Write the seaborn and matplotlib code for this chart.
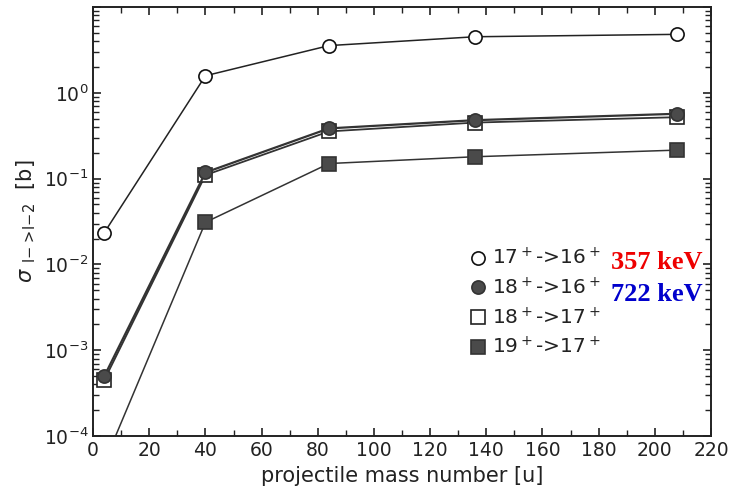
import matplotlib
matplotlib.use("Agg")
import math
import matplotlib.pyplot as plt
import matplotlib.ticker as mticker
import seaborn as sns
import pandas as pd
from matplotlib.lines import Line2D
from matplotlib.ticker import MultipleLocator, LogLocator, NullFormatter

sns.set_style("ticks")
plt.rcParams['font.family'] = ['DejaVu Sans']

mass = [4, 40, 84, 136, 208]
s_17_16 = [0.0235, 1.58, 3.55, 4.5, 4.8]
s_18_16 = [5.0e-4, 0.118, 0.385, 0.48, 0.57]
s_18_17 = [4.5e-4, 0.11, 0.355, 0.45, 0.52]
s_19_17 = [4.9e-5, 0.031, 0.15, 0.18, 0.215]
labels = ["17$^+$->16$^+$", "18$^+$->16$^+$", "18$^+$->17$^+$", "19$^+$->17$^+$"]
energies = ["357 keV", "722 keV"]

series = [s_17_16, s_18_16, s_18_17, s_19_17]
styles = [
    dict(marker="o", mfc="white", mec="#111111", color="#222222", lw=1.1),
    dict(marker="o", mfc="#4a4a4a", mec="#333333", color="#333333", lw=1.6),
    dict(marker="s", mfc="white", mec="#222222", color="#333333", lw=1.3),
    dict(marker="s", mfc="#4a4a4a", mec="#333333", color="#333333", lw=1.1),
]

rows = []
for lab, vals in zip(labels, series):
    for m, v in zip(mass, vals):
        rows.append(dict(mass=m, sigma=v, series=lab))
df = pd.DataFrame(rows)

fig = plt.figure(figsize=(7.33, 4.99), dpi=100)
ax = fig.add_axes([0.127, 0.126, 0.843, 0.860])

order = [2, 1, 3, 0]
for i in order:
    lab = labels[i]
    st = styles[i]
    sub = df[df.series == lab]
    sns.lineplot(data=sub, x="mass", y="sigma", ax=ax, color=st["color"], lw=st["lw"],
                 marker=st["marker"], markersize=9.5, markerfacecolor=st["mfc"],
                 markeredgecolor=st["mec"], markeredgewidth=1.2, legend=False,
                 estimator=None, sort=False)
handles = []
for i in range(4):
    st = styles[i]
    handles.append(Line2D([], [], ls="none", marker=st["marker"], markersize=9.5,
                          markerfacecolor=st["mfc"], markeredgecolor=st["mec"],
                          markeredgewidth=1.2, label=labels[i]))

ax.set_yscale("log")
ax.set_xlim(0, 220)
ax.set_ylim(1e-4, 10)
ax.xaxis.set_major_locator(MultipleLocator(20))
ax.xaxis.set_minor_locator(MultipleLocator(10))
ax.yaxis.set_major_locator(LogLocator(base=10, numticks=10))
ax.yaxis.set_minor_locator(LogLocator(base=10, subs=range(2, 10), numticks=20))
ax.yaxis.set_minor_formatter(NullFormatter())
ax.tick_params(which="both", direction="in", top=True, right=True, colors="#222222",
               labelcolor="#222222")
ax.tick_params(which="major", length=6, width=1.2, labelsize=13.5)
ax.tick_params(which="minor", length=4, width=1.0)
for sp in ax.spines.values():
    sp.set_linewidth(1.4)
    sp.set_color("#222222")


def yfmt(v, pos):
    e = int(round(math.log10(v)))
    if e >= 1:
        return ""
    return r"$\mathdefault{10^{%d}}$" % e


ax.yaxis.set_major_formatter(mticker.FuncFormatter(yfmt))

ax.set_xlabel("projectile mass number [u]", fontsize=15, color="#222222", labelpad=4)
ax.set_ylabel(r"$\sigma$ $_{\mathrm{I\!-\!>\!I\!-\!2}}$  [b]", fontsize=15, color="#222222", labelpad=4)

leg = ax.legend(handles=handles, loc="upper left", bbox_to_anchor=(0.61, 0.44),
                frameon=False, fontsize=14.5, handlelength=0.8, handletextpad=0.3,
                labelspacing=0.42, borderaxespad=0, borderpad=0)
for t in leg.get_texts():
    t.set_color("#222222")

ax.text(0.838, 0.405, energies[0], transform=ax.transAxes, color="#ee0000",
        fontsize=19, fontweight="bold", family="Liberation Serif", va="center", ha="left")
ax.text(0.838, 0.330, energies[1], transform=ax.transAxes, color="#0000cc",
        fontsize=19, fontweight="bold", family="Liberation Serif", va="center", ha="left")

fig.savefig("out.png", dpi=100)
